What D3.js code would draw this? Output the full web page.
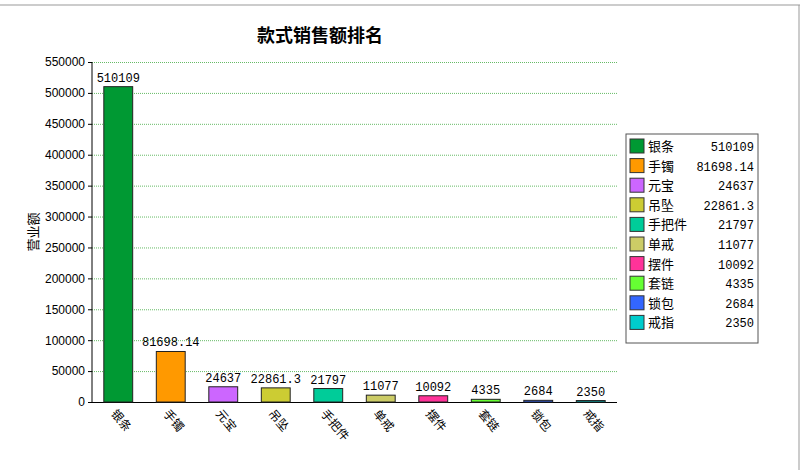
<!DOCTYPE html><html><head><meta charset="utf-8"><script src="https://cdn.jsdelivr.net/npm/d3@7"></script>
<style>body{margin:0;background:#fff}text{font-family:"Liberation Mono","Noto Sans CJK SC",monospace}</style></head><body>
<svg id="c" width="800" height="470"></svg>
<script>
const categories=["银条","手镯","元宝","吊坠","手把件","单戒","摆件","套链","锁包","戒指"];
const values=[510109,81698.14,24637,22861.3,21797,11077,10092,4335,2684,2350];
const labels=["510109","81698.14","24637","22861.3","21797","11077","10092","4335","2684","2350"];
const colors=["#009933","#ff9900","#cc66ff","#cccc33","#00cc99","#cccc66","#ff3399","#66ff33","#3366ff","#00cccc"];
const yTicks=d3.range(0,550001,50000);
const svg=d3.select("#c");
svg.append("line").attr("x1",0).attr("x2",800).attr("y1",5).attr("y2",5).attr("stroke","#999");
svg.append("line").attr("x1",799).attr("x2",799).attr("y1",5).attr("y2",470).attr("stroke","#999");
const L=92,R=617,T=62,B=402;
const x=d3.scaleBand().domain(categories).range([L,R]).paddingInner(0.45).paddingOuter(0.225);
const y=d3.scaleLinear().domain([0,550000]).range([B,T]);
svg.append("text").attr("x",320).attr("y",42).attr("text-anchor","middle").attr("font-size",18).attr("font-weight","bold").style("font-family","Noto Sans CJK SC").text("款式销售额排名");
svg.append("g").selectAll("line").data(yTicks.slice(1)).join("line").attr("x1",L).attr("x2",R).attr("y1",d=>y(d)+.5).attr("y2",d=>y(d)+.5).attr("stroke","#66bb66").attr("stroke-dasharray","1,1");
const ya=svg.append("g").attr("transform",`translate(${L},0)`).call(d3.axisLeft(y).tickValues(yTicks).tickSize(4).tickFormat(d3.format("d")));
ya.selectAll("text").attr("font-size",12).style("font-family","Liberation Sans").attr("fill","#000");
ya.select(".domain").remove();
svg.append("line").attr("x1",L).attr("x2",L).attr("y1",T).attr("y2",B).attr("stroke","#000");
svg.append("line").attr("x1",L).attr("x2",R).attr("y1",B+.5).attr("y2",B+.5).attr("stroke","#000");
svg.append("text").attr("transform","translate(38,232) rotate(-90)").attr("text-anchor","middle").attr("font-size",13).style("font-family","Noto Sans CJK SC").text("营业额");
svg.append("g").selectAll("rect").data(values).join("rect").attr("x",(d,i)=>x(categories[i])).attr("width",x.bandwidth()).attr("y",d=>y(d)).attr("height",d=>B-y(d)).attr("fill",(d,i)=>colors[i]).attr("stroke","#222");
svg.append("g").selectAll("text").data(values).join("text").attr("x",(d,i)=>x(categories[i])+x.bandwidth()/2).attr("y",d=>y(d)-5).attr("text-anchor","middle").attr("font-size",12).text((d,i)=>labels[i]);
svg.append("g").selectAll("text").data(categories).join("text").attr("transform",(d)=>`translate(${x(d)+x.bandwidth()/2-8},${B+12}) rotate(50)`).attr("font-size",12).style("font-family","Noto Sans CJK SC").text(d=>d);
const lg=svg.append("g");
lg.append("rect").attr("x",626).attr("y",134).attr("width",132).attr("height",209).attr("fill","#fff").attr("stroke","#555");
const row=lg.selectAll("g").data(categories).join("g").attr("transform",(d,i)=>`translate(630,${139+i*19.6})`);
row.append("rect").attr("width",14).attr("height",14).attr("fill",(d,i)=>colors[i]).attr("stroke","#333");
row.append("text").attr("x",18).attr("y",12).attr("font-size",13).style("font-family","Noto Sans CJK SC").text(d=>d);
row.append("text").attr("x",124).attr("y",12).attr("text-anchor","end").attr("font-size",12).text((d,i)=>labels[i]);
</script></body></html>
